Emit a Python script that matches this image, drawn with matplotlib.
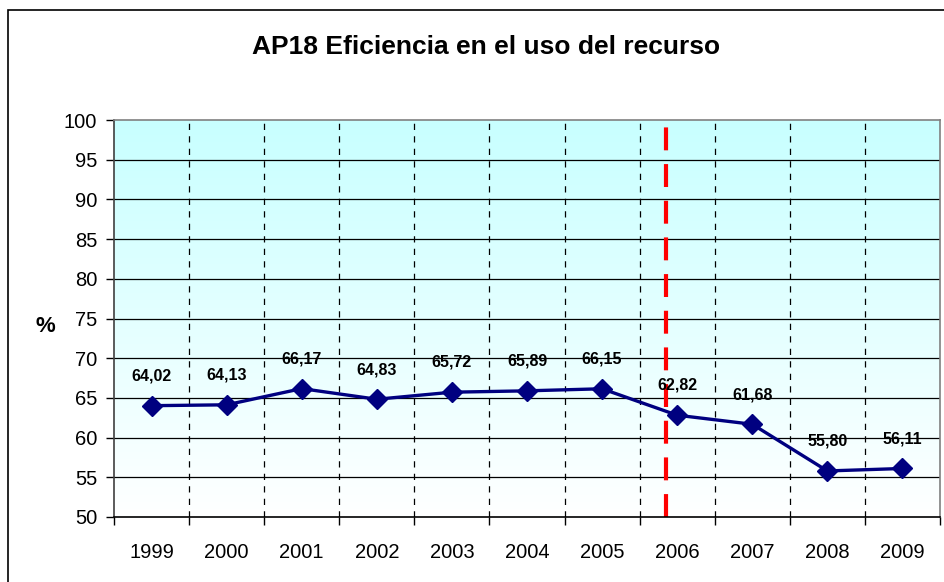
import numpy as np
import matplotlib
matplotlib.use("Agg")
import matplotlib.pyplot as plt
from matplotlib.colors import LinearSegmentedColormap
from matplotlib.patches import Rectangle

plt.rcParams['font.family'] = ['Liberation Sans', 'DejaVu Sans']

# data
years = ["1999", "2000", "2001", "2002", "2003", "2004", "2005", "2006", "2007", "2008", "2009"]
values = [64.02, 64.13, 66.17, 64.83, 65.72, 65.89, 66.15, 62.82, 61.68, 55.80, 56.11]
labels = ["64,02", "64,13", "66,17", "64,83", "65,72", "65,89", "66,15", "62,82", "61,68", "55,80", "56,11"]
yticks = list(range(50, 101, 5))
marker_year = 6.85  # red line just before 2006

fig = plt.figure(figsize=(9.44, 5.82), dpi=100)
ax = fig.add_axes([114/944, 1 - 517/582, (940 - 114)/944, (517 - 120)/582])

x = np.arange(len(years))
ax.set_xlim(-0.5, len(years) - 0.5)
ax.set_ylim(50, 100)

# gradient background (light cyan at top to white at bottom)
cmap = LinearSegmentedColormap.from_list("bg", ["#ffffff", "#c8ffff"])
grad = np.linspace(0, 1, 256).reshape(-1, 1)
ax.imshow(grad, extent=[-0.5, len(years) - 0.5, 50, 100], origin="lower",
          aspect="auto", cmap=cmap, zorder=0)

# grid
ax.set_yticks(yticks)
for y in yticks[1:-1]:
    ax.axhline(y, color="black", lw=0.9, zorder=1)
ax.set_xticks(x)
ax.set_xticklabels(years)
ax.set_xticks(np.arange(-0.5, len(years)), minor=True)
for b in np.arange(0.5, len(years) - 1):
    ax.axvline(b, color="black", lw=0.9, ls=(0, (5, 5)), zorder=1)

# red dashed line
ax.axvline(marker_year, color="#ff0000", lw=3, ls=(0, (5.5, 3.3)), zorder=2)

# series
ax.plot(x, values, color="#000080", lw=2.4, marker="D", markersize=10,
        zorder=3, clip_on=False)
for xi, v, t in zip(x, values, labels):
    ax.annotate(t, (xi, v), xytext=(0, 16), textcoords="offset points",
                ha="center", va="bottom", fontsize=11.5, fontweight="bold")

# axes styling
ax.tick_params(axis="x", which="major", length=0, pad=19, labelsize=14.5)
ax.tick_params(axis="x", which="minor", length=6, width=1, color="black")
ax.tick_params(axis="y", length=6, width=1, pad=6, labelsize=14.5)
for s in ["top", "right"]:
    ax.spines[s].set_color("#808080")
ax.spines["left"].set_color("#404040")
ax.spines["bottom"].set_color("black")
for s in ax.spines.values():
    s.set_linewidth(1.2)

fig.text(486/944, 1 - 47/582, "AP18 Eficiencia en el uso del recurso",
         ha="center", va="center", fontsize=19, fontweight="bold")
fig.text(45/944, 1 - 327/582, "%", ha="center", va="center",
         fontsize=16, fontweight="bold")

# outer border
fig.patches.append(Rectangle((8/944, -0.1), 1.2, 1 - 10/582 + 0.1,
                             transform=fig.transFigure, fill=False,
                             edgecolor="black", lw=1.2))

fig.savefig("out.png", dpi=100)
